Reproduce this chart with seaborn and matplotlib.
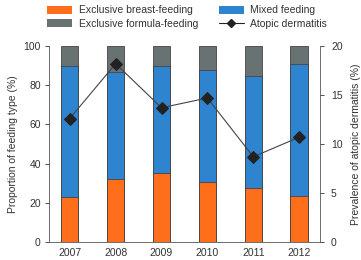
import matplotlib
matplotlib.use("Agg")
import matplotlib.pyplot as plt
import seaborn as sns
import pandas as pd
import numpy as np
from matplotlib.patches import Patch
from matplotlib.lines import Line2D

years = ["2007", "2008", "2009", "2010", "2011", "2012"]
breast = [23.1, 32.0, 35.0, 30.5, 27.4, 23.3]
mixed = [66.7, 54.6, 54.6, 57.3, 57.3, 67.3]
formula = [10.2, 13.4, 10.4, 12.2, 15.3, 9.4]
atopic = [12.6, 18.2, 13.7, 14.7, 8.7, 10.7]

c_orange = "#FF6E1A"
c_blue = "#2F84D0"
c_gray = "#687272"
edge = "#444444"

sns.set_style("white")
plt.rcParams["font.family"] = ["Liberation Sans", "DejaVu Sans"]

df = pd.DataFrame({"year": years, "breast": breast, "mixed": mixed,
                   "formula": formula, "atopic": atopic})
df["bm"] = df["breast"] + df["mixed"]
df["total"] = df["bm"] + df["formula"]

fig = plt.figure(figsize=(3.61, 2.60), dpi=100)
ax = fig.add_axes([0.136, 0.069, 0.75, 0.754])

for col, colr in [("total", c_gray), ("bm", c_blue), ("breast", c_orange)]:
    sns.barplot(data=df, x="year", y=col, color=colr, width=0.38,
                edgecolor=edge, linewidth=0.6, saturation=1, ax=ax, order=years)

fs = 7.5
ax.set_ylim(0, 100)
ax.set_yticks([0, 20, 40, 60, 80, 100])
ax.set_xlabel("")
ax.set_ylabel("Proportion of feeding type (%)", fontsize=fs, color="#333333", labelpad=4)
ax.tick_params(axis="y", labelsize=fs, colors="#333333", length=3, width=0.6, direction="out", left=True, pad=3)
ax.tick_params(axis="x", labelsize=fs, colors="#333333", length=0, pad=4)
for s in ["top", "right"]:
    ax.spines[s].set_visible(False)
for s in ["left", "bottom"]:
    ax.spines[s].set_color("#555555")
    ax.spines[s].set_linewidth(0.6)

ax2 = ax.twinx()
sns.lineplot(data=df, x="year", y="atopic", color="#444444", linewidth=0.8,
             marker="D", markersize=6, markerfacecolor="#222222",
             markeredgecolor="#222222", ax=ax2, sort=False)
ax2.set_ylim(0, 20)
ax2.set_yticks([0, 5, 10, 15, 20])
ax2.set_ylabel("Prevalence of atopic dermatitis (%)", fontsize=fs, color="#333333", labelpad=6)
ax2.set_xlabel("")
ax2.tick_params(axis="y", labelsize=fs, colors="#333333", length=3, width=0.6, direction="out", right=True, pad=5)
for s in ["top", "left", "bottom"]:
    ax2.spines[s].set_visible(False)
ax2.spines["right"].set_color("#555555")
ax2.spines["right"].set_linewidth(0.6)
ax.set_xlim(-0.45, 5.45)
ax2.set_xlim(-0.45, 5.45)

handles = [Patch(facecolor=c_orange, edgecolor="none"),
           Patch(facecolor=c_gray, edgecolor="none"),
           Patch(facecolor=c_blue, edgecolor="none"),
           Line2D([0], [0], color="#222222", marker="D", markersize=4.5, linewidth=0.8)]
labels = ["Exclusive breast-feeding", "Exclusive formula-feeding",
          "Mixed feeding", "Atopic dermatitis"]
fig.legend(handles, labels, ncol=2, loc="upper left", bbox_to_anchor=(0.105, 1.015),
           frameon=False, fontsize=fs, handlelength=2.4, handleheight=0.8,
           columnspacing=2.0, labelspacing=0.3, handletextpad=0.6, labelcolor="#333333")

fig.savefig("out.png", dpi=100)
